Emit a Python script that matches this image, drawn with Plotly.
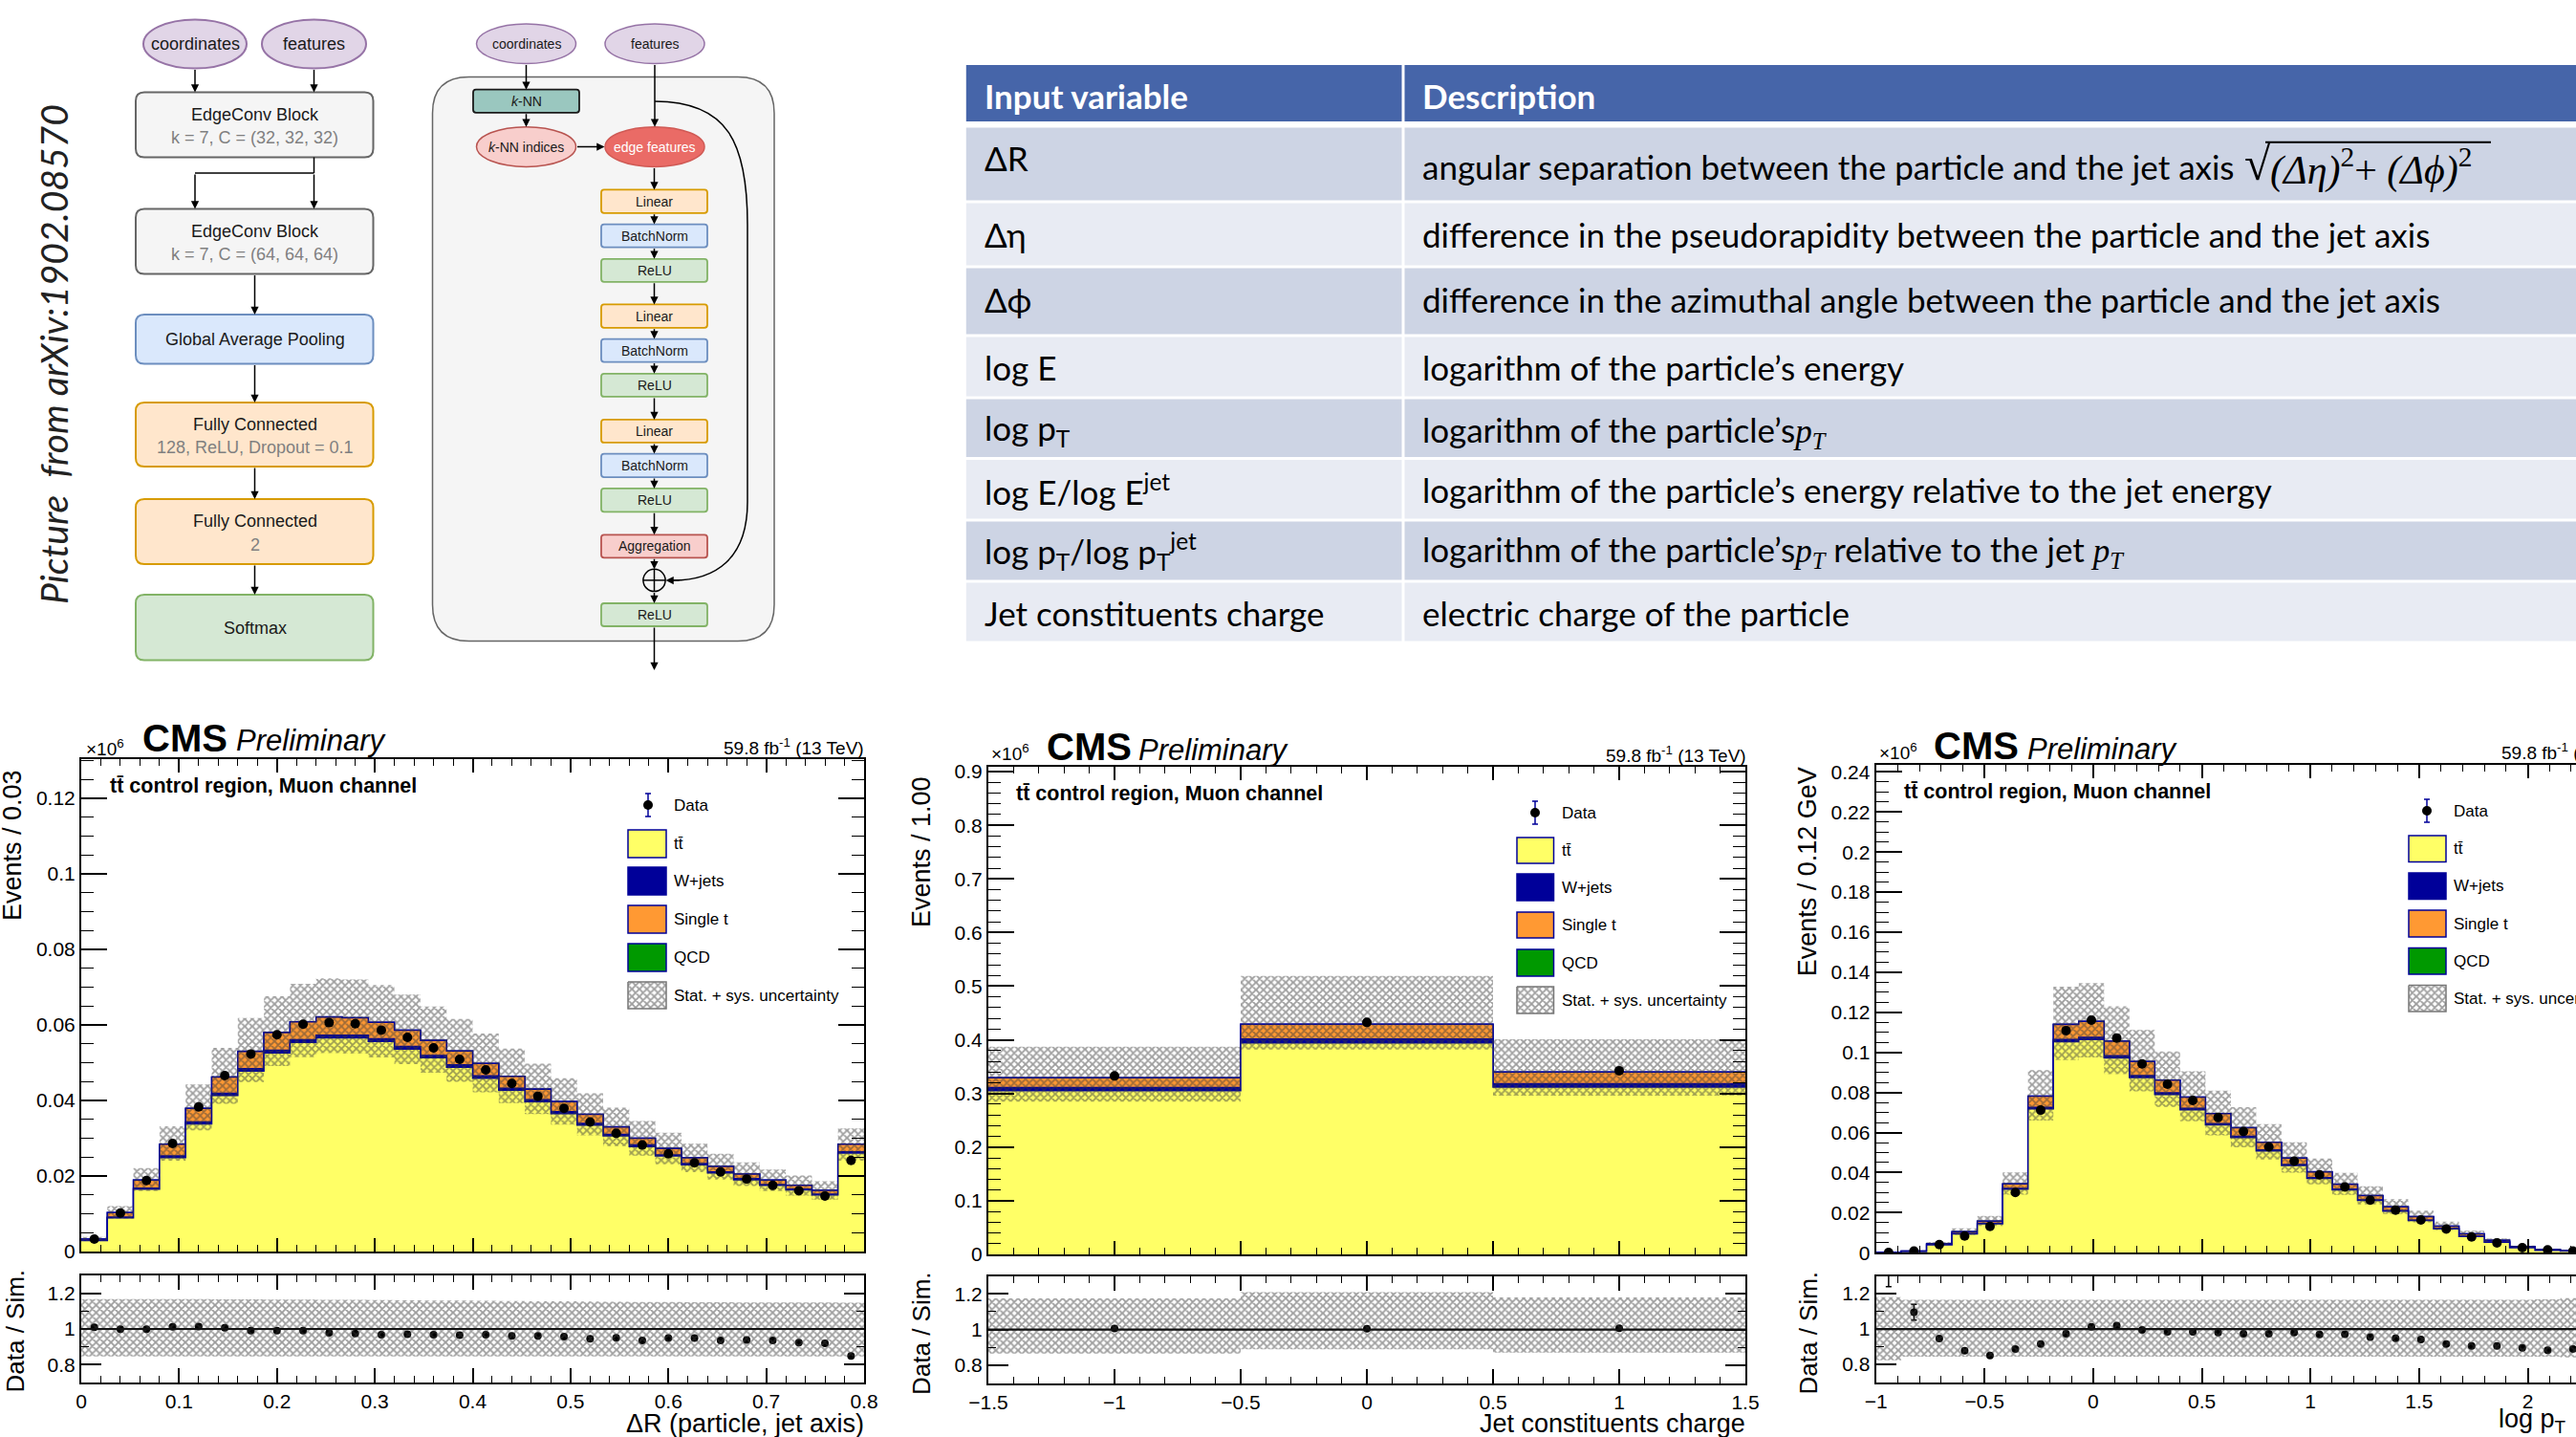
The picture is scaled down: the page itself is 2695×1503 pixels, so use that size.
import numpy as np
import plotly.graph_objects as go

W, H = 2695, 1503
RF = "Liberation Sans"   # ROOT / Helvetica-like
TF = "Lato"              # slide table font
MF = "Liberation Serif"  # math
DF = "Liberation Sans"   # diagram

NAVY = "#000099"
YEL = "#ffff66"
ORG = "#ff9933"
GRN = "#009900"
HATCH = "#3c3c3c"

# ====================== DATA ======================
# --- Delta R (particle, jet axis): 30 bins, 0 .. 0.8 ---
dr_range = [0.0, 0.8]
dr_nbins = 30
dr_tt = [0.0029, 0.0089, 0.0165, 0.0249, 0.0338, 0.0413, 0.0478, 0.0526, 0.0554, 0.0566,
         0.0566, 0.0556, 0.0536, 0.0513, 0.0488, 0.0459, 0.0427, 0.0397, 0.0365, 0.0335,
         0.0306, 0.0278, 0.0253, 0.0230, 0.0208, 0.0190, 0.0175, 0.0163, 0.0150, 0.0261]
dr_wjets = [0.0001, 0.0002, 0.0003, 0.0004, 0.0005, 0.0006, 0.0006, 0.0007, 0.0007, 0.0007,
            0.0007, 0.0007, 0.0007, 0.0006, 0.0006, 0.0006, 0.0005, 0.0005, 0.0005, 0.0004,
            0.0004, 0.0004, 0.0003, 0.0003, 0.0003, 0.0003, 0.0002, 0.0002, 0.0002, 0.0003]
dr_singlet = [0.0003, 0.0012, 0.0021, 0.0031, 0.0036, 0.0043, 0.0046, 0.0047, 0.0047, 0.0048,
              0.0046, 0.0044, 0.0043, 0.0040, 0.0037, 0.0033, 0.0032, 0.0028, 0.0027, 0.0024,
              0.0020, 0.0018, 0.0017, 0.0015, 0.0014, 0.0012, 0.0012, 0.0010, 0.0010, 0.0020]
dr_qcd = [0.00002, 0.00002, 0.00002, 0.00002, 0.00002, 0.00002, 0.00002, 0.00002, 0.00002, 0.00002,
          0.00002, 0.00002, 0.00002, 0.00002, 0.00002, 0.00002, 0.00002, 0.00002, 0.00002, 0.00002,
          0.00002, 0.00002, 0.00002, 0.00002, 0.00002, 0.00002, 0.00002, 0.00002, 0.00002, 0.00002]
dr_data = [0.0033, 0.0102, 0.0188, 0.0286, 0.0383, 0.0466, 0.0523, 0.0574, 0.0602, 0.0606,
           0.0603, 0.0586, 0.0567, 0.0539, 0.0509, 0.0481, 0.0445, 0.0411, 0.0379, 0.0343,
           0.0313, 0.0282, 0.0259, 0.0235, 0.0211, 0.0192, 0.0175, 0.0161, 0.0147, 0.0241]
dr_ratio = [1.009, 0.998, 0.998, 1.012, 1.014, 1.007, 0.991, 0.991, 0.991, 0.979,
            0.975, 0.968, 0.970, 0.968, 0.965, 0.968, 0.961, 0.961, 0.957, 0.945,
            0.950, 0.936, 0.949, 0.949, 0.936, 0.938, 0.936, 0.924, 0.920, 0.849]
dr_unc_up = [0.168, 0.168, 0.168, 0.167, 0.167, 0.166, 0.166, 0.165, 0.165, 0.164,
             0.163, 0.162, 0.161, 0.160, 0.159, 0.158, 0.157, 0.156, 0.155, 0.154,
             0.153, 0.152, 0.151, 0.150, 0.150, 0.149, 0.149, 0.148, 0.148, 0.147]
dr_unc_dn = [0.154, 0.154, 0.154, 0.154, 0.154, 0.154, 0.154, 0.154, 0.154, 0.154,
             0.154, 0.154, 0.154, 0.154, 0.154, 0.154, 0.154, 0.154, 0.154, 0.154,
             0.154, 0.154, 0.154, 0.154, 0.154, 0.154, 0.154, 0.154, 0.154, 0.154]

# --- Jet constituents charge: 3 bins, -1.5 .. 1.5 ---
ch_range = [-1.5, 1.5]
ch_nbins = 3
ch_tt = [0.3051, 0.3944, 0.3121]
ch_wjets = [0.0060, 0.0070, 0.0060]
ch_singlet = [0.0182, 0.0277, 0.0218]
ch_qcd = [0.0001, 0.0001, 0.0001]
ch_data = [0.3327, 0.4325, 0.3424]
ch_ratio = [1.006, 1.004, 1.007]
ch_unc_up = [0.175, 0.210, 0.180]
ch_unc_dn = [0.135, 0.110, 0.130]

# --- log pT: 30 bins, -1 .. 2.5 ---
lp_range = [-1.0, 2.5]
lp_nbins = 30
lp_tt = [0.0001, 0.0006, 0.0040, 0.0094, 0.0145, 0.0317, 0.0718, 0.1053, 0.1064, 0.0973,
         0.0875, 0.0790, 0.0714, 0.0639, 0.0575, 0.0508, 0.0436, 0.0371, 0.0314, 0.0261,
         0.0208, 0.0161, 0.0119, 0.0081, 0.0053, 0.0025, 0.0012, 0.0008, 0.0004, 0.0003]
lp_wjets = [0.0000, 0.0001, 0.0001, 0.0002, 0.0002, 0.0004, 0.0008, 0.0011, 0.0011, 0.0010,
            0.0009, 0.0008, 0.0007, 0.0006, 0.0006, 0.0005, 0.0004, 0.0004, 0.0003, 0.0003,
            0.0002, 0.0002, 0.0001, 0.0001, 0.0001, 0.0000, 0.0000, 0.0000, 0.0000, 0.0000]
lp_singlet = [0.0000, 0.0001, 0.0005, 0.0009, 0.0011, 0.0023, 0.0056, 0.0076, 0.0080, 0.0073,
              0.0070, 0.0064, 0.0056, 0.0049, 0.0043, 0.0038, 0.0033, 0.0029, 0.0025, 0.0021,
              0.0019, 0.0017, 0.0013, 0.0012, 0.0008, 0.0006, 0.0005, 0.0003, 0.0002, 0.0001]
lp_qcd = [0.00001, 0.00001, 0.00001, 0.00001, 0.00001, 0.00001, 0.00001, 0.00001, 0.00001, 0.00001,
          0.00001, 0.00001, 0.00001, 0.00001, 0.00001, 0.00001, 0.00001, 0.00001, 0.00001, 0.00001,
          0.00001, 0.00001, 0.00001, 0.00001, 0.00001, 0.00001, 0.00001, 0.00001, 0.00001, 0.00001]
lp_data = [0.0001, 0.0008, 0.0041, 0.0084, 0.0132, 0.0301, 0.0712, 0.1109, 0.1161, 0.1072,
           0.0943, 0.0841, 0.0760, 0.0675, 0.0605, 0.0529, 0.0457, 0.0389, 0.0328, 0.0263,
           0.0213, 0.0164, 0.0118, 0.0079, 0.0049, 0.0025, 0.0014, 0.0008, 0.0005, 0.0003]
lp_ratio = [1.450, 1.095, 0.946, 0.878, 0.851, 0.887, 0.916, 0.973, 1.013, 1.020,
            0.995, 0.984, 0.984, 0.980, 0.973, 0.973, 0.980, 0.970, 0.971, 0.955,
            0.948, 0.941, 0.916, 0.905, 0.905, 0.894, 0.880, 0.887, 0.890, 0.880]
lp_ratio_err = [0.210, 0.045, 0.010, 0.006, 0.005, 0.003, 0.002, 0.002, 0.002, 0.002,
                0.002, 0.002, 0.002, 0.002, 0.002, 0.002, 0.002, 0.002, 0.003, 0.003,
                0.003, 0.004, 0.004, 0.005, 0.006, 0.008, 0.010, 0.012, 0.015, 0.020]
lp_unc_up = [0.180, 0.165, 0.165, 0.165, 0.165, 0.165, 0.165, 0.165, 0.165, 0.165,
             0.165, 0.165, 0.165, 0.165, 0.165, 0.165, 0.165, 0.165, 0.165, 0.165,
             0.165, 0.165, 0.165, 0.165, 0.165, 0.165, 0.168, 0.175, 0.180, 0.180]
lp_unc_dn = [0.176, 0.156, 0.156, 0.156, 0.156, 0.156, 0.156, 0.156, 0.156, 0.156,
             0.156, 0.156, 0.156, 0.156, 0.156, 0.156, 0.156, 0.156, 0.156, 0.156,
             0.156, 0.156, 0.156, 0.156, 0.156, 0.156, 0.156, 0.160, 0.165, 0.170]

legend_labels = ["tt\u0304", "W+jets", "Single t", "QCD", "Stat. + sys. uncertainty"]
legend_colors = [YEL, NAVY, ORG, GRN, None]

# --- table ---
tab_header = ["Input variable", "Description"]
tab_vars = ["\u0394R", "\u0394\u03b7", "\u0394\u03d5", "log E", "log p<sub>T</sub>",
            "log E/log E<sup>jet</sup>", "log p<sub>T</sub>/log p<sub>T</sub><sup>jet</sup>",
            "Jet constituents charge"]
PT = "<span style=\"font-family:'Liberation Serif'\"><i>p</i><sub><i>T</i></sub></span>"
tab_desc = ["angular separation between the particle and the jet axis",
            "difference in the pseudorapidity between the particle and the jet axis",
            "difference in the azimuthal angle between the particle and the jet axis",
            "logarithm of the particle\u2019s energy",
            "logarithm of the particle\u2019s" + PT,
            "logarithm of the particle\u2019s energy relative to the jet energy",
            "logarithm of the particle\u2019s" + PT + " relative to the jet " + PT,
            "electric charge of the particle"]

# ====================== FIGURE ======================
fig = go.Figure()
annotations = []
shapes = []


def T(x, y, text, size, color="black", family=RF, xanchor="left", yanchor="middle", angle=0):
    annotations.append(dict(x=x, y=y, xref="x7", yref="y7", text=text, showarrow=False,
                            xanchor=xanchor, yanchor=yanchor, textangle=angle,
                            font=dict(family=family, size=size, color=color)))


def A(x0, y0, x1, y1, width=1.5):
    annotations.append(dict(x=x1, y=y1, xref="x7", yref="y7", ax=x0 - x1, ay=y0 - y1,
                            axref="pixel", ayref="pixel", showarrow=True, arrowhead=2,
                            arrowsize=1.1, arrowwidth=width, arrowcolor="black", text="",
                            standoff=0))


def L(x0, y0, x1, y1, color="black", width=1.5, layer="below"):
    shapes.append(dict(type="line", xref="x7", yref="y7", x0=x0, y0=y0, x1=x1, y1=y1,
                       line=dict(color=color, width=width), layer=layer))


def RR(x0, y0, x1, y1, r, fill, line, lw=2.0, layer="below"):
    p = (f"M{x0+r},{y0} L{x1-r},{y0} Q{x1},{y0} {x1},{y0+r} L{x1},{y1-r} Q{x1},{y1} {x1-r},{y1} "
         f"L{x0+r},{y1} Q{x0},{y1} {x0},{y1-r} L{x0},{y0+r} Q{x0},{y0} {x0+r},{y0} Z")
    shapes.append(dict(type="path", path=p, xref="x7", yref="y7", fillcolor=fill,
                       line=dict(color=line, width=lw), layer=layer))


def EL(x0, y0, x1, y1, fill, line, lw=2.0):
    shapes.append(dict(type="circle", xref="x7", yref="y7", x0=x0, y0=y0, x1=x1, y1=y1,
                       fillcolor=fill, line=dict(color=line, width=lw), layer="below"))


def REC(x0, y0, x1, y1, fill, line=None, lw=0, layer="below"):
    shapes.append(dict(type="rect", xref="x7", yref="y7", x0=x0, y0=y0, x1=x1, y1=y1,
                       fillcolor=fill, line=dict(color=line or fill, width=lw), layer=layer))


def pattern():
    return dict(shape="x", fgcolor=HATCH, bgcolor="rgba(0,0,0,0)", size=5.5, solidity=0.55)


def steps(edges, vals):
    return list(edges), list(vals) + [vals[-1]]


def hatch_band(edges, lo, hi, xa, ya):
    xs, yl = steps(edges, lo)
    _, yh = steps(edges, hi)
    fig.add_trace(go.Scatter(x=xs, y=yl, xaxis=xa, yaxis=ya, mode="lines",
                             line=dict(shape="hv", width=0, color="rgba(0,0,0,0)"),
                             hoverinfo="skip", showlegend=False))
    fig.add_trace(go.Scatter(x=xs, y=yh, xaxis=xa, yaxis=ya, mode="lines",
                             line=dict(shape="hv", width=0, color="rgba(0,0,0,0)"),
                             fill="tonexty", fillcolor="rgba(0,0,0,0)", fillpattern=pattern(),
                             hoverinfo="skip", showlegend=False))


def build_panel(ids, rng, nb, tt, wj, st, qcd, data, ratio, up, dn, rerr=None):
    mx, my, rx, ry = ids
    edges = np.linspace(rng[0], rng[1], nb + 1)
    cen = 0.5 * (edges[:-1] + edges[1:])
    tt, wj, st, qcd = (np.asarray(a, float) for a in (tt, wj, st, qcd))
    c1 = tt
    c2 = c1 + wj
    c3 = c2 + st
    c4 = c3 + qcd
    for lvl, col in ((c4, GRN), (c3, ORG), (c2, NAVY), (c1, YEL)):
        xs, ys = steps(edges, lvl)
        fig.add_trace(go.Scatter(x=xs, y=ys, xaxis=mx, yaxis=my, mode="lines",
                                 line=dict(shape="hv", color=NAVY, width=1.5),
                                 fill="tozeroy", fillcolor=col, hoverinfo="skip", showlegend=False))
    up = np.asarray(up, float)
    dn = np.asarray(dn, float)
    hatch_band(edges, c4 * (1 - dn), c4 * (1 + up), mx, my)
    fig.add_trace(go.Scatter(x=cen, y=data, xaxis=mx, yaxis=my, mode="markers",
                             marker=dict(color="black", size=10), hoverinfo="skip", showlegend=False))
    err = None
    if rerr is not None:
        err = dict(type="data", array=rerr, color="black", thickness=1.5, width=3)
    fig.add_trace(go.Scatter(x=cen, y=ratio, xaxis=rx, yaxis=ry, mode="markers",
                             marker=dict(color="black", size=8), error_y=err,
                             hoverinfo="skip", showlegend=False))
    hatch_band(edges, 1 - dn, 1 + up, rx, ry)
    xr = ("x" if rx == "x" else rx) + " domain"
    shapes.append(dict(type="line", xref=xr, yref=ry, x0=0, x1=1, y0=1, y1=1,
                       line=dict(color="#111111", width=2.2), layer="above"))


build_panel(("x", "y", "x2", "y2"), dr_range, dr_nbins, dr_tt, dr_wjets, dr_singlet, dr_qcd,
            dr_data, dr_ratio, dr_unc_up, dr_unc_dn)
build_panel(("x3", "y3", "x4", "y4"), ch_range, ch_nbins, ch_tt, ch_wjets, ch_singlet, ch_qcd,
            ch_data, ch_ratio, ch_unc_up, ch_unc_dn)
build_panel(("x5", "y5", "x6", "y6"), lp_range, lp_nbins, lp_tt, lp_wjets, lp_singlet, lp_qcd,
            lp_data, lp_ratio, lp_unc_up, lp_unc_dn, lp_ratio_err)


# ---------------- axes ----------------
def axis(domain, anchor, rng, dtick, mdtick, tl, mtl, labels, tick0=0.0, mirror="ticks"):
    return dict(domain=domain, anchor=anchor, range=rng, dtick=dtick, tick0=tick0,
                ticks="inside", ticklen=tl, tickwidth=1.5, tickcolor="black",
                minor=dict(ticks="inside", dtick=mdtick, ticklen=mtl, tickwidth=1.2,
                           tickcolor="black", showgrid=False),
                showline=True, linecolor="black", linewidth=2, mirror=mirror,
                showgrid=False, zeroline=False, showticklabels=labels, automargin=False,
                tickfont=dict(family=RF, size=21, color="black"), fixedrange=True)


def xd(a, b):
    return [a / W, min(b / W, 1.0)]


def yd(top, bot):
    return [1 - bot / H, 1 - top / H]


lp_xmax = lp_range[0] + (W - 1962.6) / 227.3
layout_axes = dict(
    xaxis=axis(xd(85, 904), "y", dr_range, 0.1, 0.02, 14, 7, False),
    yaxis=axis(yd(793.5, 1309), "x", [0, 0.1305], 0.02, 0.005, 27, 13, True),
    xaxis2=axis(xd(85, 904), "y2", dr_range, 0.1, 0.02, 15, 7, True),
    yaxis2=axis(yd(1334, 1446), "x2", [0.7, 1.3], 0.2, 0.1, 21, 8, True, tick0=0.8),
    xaxis3=axis(xd(1034, 1826), "y3", ch_range, 0.5, 0.1, 14, 7, False),
    yaxis3=axis(yd(802, 1312), "x3", [0, 0.909], 0.1, 0.02, 27, 13, True),
    xaxis4=axis(xd(1034, 1826), "y4", ch_range, 0.5, 0.1, 15, 7, True),
    yaxis4=axis(yd(1334.6, 1446.6), "x4", [0.7, 1.3], 0.2, 0.1, 21, 8, True, tick0=0.8),
    xaxis5=axis(xd(1962.6, W), "y5", [lp_range[0], lp_xmax], 0.5, 0.1, 14, 7, False),
    yaxis5=axis(yd(800, 1310.3), "x5", [0, 0.2435], 0.02, 0.005, 27, 13, True, mirror=False),
    xaxis6=axis(xd(1962.6, W), "y6", [lp_range[0], lp_xmax], 0.5, 0.1, 15, 7, True),
    yaxis6=axis(yd(1334.6, 1445.6), "x6", [0.7, 1.3], 0.2, 0.1, 21, 8, True, tick0=0.8, mirror=False),
    xaxis7=dict(domain=[0, 1], range=[0, W], visible=False, anchor="y7", fixedrange=True,
                automargin=False, showgrid=False, zeroline=False),
    yaxis7=dict(domain=[0, 1], range=[H, 0], visible=False, anchor="x7", fixedrange=True,
                automargin=False, showgrid=False, zeroline=False),
)


# ---------------- ROOT texts + legends ----------------
def legend(mk_x, mk_y, txt_x, bx0, bx1, rows, err=12):
    fig.add_trace(go.Scatter(x=[mk_x], y=[mk_y], xaxis="x7", yaxis="y7", mode="markers",
                             marker=dict(color="black", size=10),
                             error_y=dict(type="constant", value=err, color=NAVY, thickness=1.5, width=3),
                             hoverinfo="skip", showlegend=False))
    T(txt_x, mk_y, "Data", 17)
    for (y0, y1), lab, col in zip(rows, legend_labels, legend_colors):
        if col:
            REC(bx0, y0, bx1, y1, col, NAVY, 1.5, layer="above")
        else:
            fig.add_trace(go.Scatter(x=[bx0, bx1, bx1, bx0, bx0], y=[y0, y0, y1, y1, y0],
                                     xaxis="x7", yaxis="y7", mode="lines",
                                     line=dict(color="#777777", width=1.5), fill="toself",
                                     fillcolor="rgba(0,0,0,0)", fillpattern=pattern(),
                                     hoverinfo="skip", showlegend=False))
        T(txt_x, (y0 + y1) / 2, lab, 17)


LUMI = "59.8 fb<sup>-1</sup> (13 TeV)"
REGION = "<b>tt\u0304 control region, Muon channel</b>"

# panel 1
T(88, 782, "\u00d710<sup>6</sup>", 19)
T(147, 771.5, "<b>CMS</b>", 40)
T(245, 774, "<i>Preliminary</i>", 31)
T(906, 781, LUMI, 19, xanchor="right")
T(113, 822, REGION, 21.5)
T(13, 803, "Events / 0.03", 27, xanchor="center", yanchor="top", angle=-90)
T(15, 1326, "Data / Sim.", 26, xanchor="center", yanchor="top", angle=-90)
T(906, 1489, "\u0394R (particle, jet axis)", 27, xanchor="right")
legend(678, 842, 703, 657, 697, [(868, 897), (907, 936), (947, 976), (987, 1016), (1027, 1055)])

# panel 2
T(1035, 787, "\u00d710<sup>6</sup>", 19)
T(1093, 781, "<b>CMS</b>", 40)
T(1189, 784, "<i>Preliminary</i>", 31)
T(1829, 789, LUMI, 19, xanchor="right")
T(1061, 830, REGION, 21.5)
T(963.5, 810.6, "Events / 1.00", 27, xanchor="center", yanchor="top", angle=-90)
T(963.5, 1328, "Data / Sim.", 26, xanchor="center", yanchor="top", angle=-90)
T(1828, 1489, "Jet constituents charge", 27, xanchor="right")
legend(1606, 850, 1632, 1587, 1625.5, [(876, 903), (914, 942), (954, 981), (993, 1021), (1032, 1060)])

# panel 3
T(1964, 786, "\u00d710<sup>6</sup>", 19)
T(2021, 780, "<b>CMS</b>", 40)
T(2119, 783, "<i>Preliminary</i>", 31)
T(2615, 786, LUMI, 19)
T(1990, 828, REGION, 21.5)
T(1891, 800.8, "Events / 0.12 GeV", 27, xanchor="center", yanchor="top", angle=-90)
T(1891, 1328, "Data / Sim.", 26, xanchor="center", yanchor="top", angle=-90)
T(2612, 1486, "log p<sub>T</sub>", 27)
legend(2539, 848, 2565, 2520, 2559, [(874, 901.5), (913, 940.5), (952, 980), (991.6, 1019), (1030.5, 1058)])

# ---------------- network diagram ----------------
TXT = "#1a1a1a"
SUB = "#808080"
PURF, PURL = "#e1d5e7", "#9673a6"
GRYF, GRYL = "#f5f5f5", "#666666"
BLUF, BLUL = "#dae8fc", "#6c8ebf"
ORGF, ORGL = "#ffe6cc", "#d79b00"
GRNF, GRNL = "#d5e8d4", "#82b366"
REDF, REDL = "#f8cecc", "#b85450"

T(56, 371, "<i>Picture\u00a0 from arXiv:1902.08570</i>", 39, color="#222222", family=TF,
  xanchor="center", yanchor="middle", angle=-90)

# left column
EL(150, 20.5, 258, 71.5, PURF, PURL)
EL(274, 20.5, 383, 71.5, PURF, PURL)
T(204, 46, "coordinates", 18, TXT, DF, "center")
T(328.5, 46, "features", 18, TXT, DF, "center")
A(204, 71.5, 204, 96.5)
A(328.5, 71.5, 328.5, 96.5)
RR(142, 96.5, 390.5, 164.5, 9, GRYF, GRYL)
T(266.5, 120, "EdgeConv Block", 18, TXT, DF, "center")
T(266.5, 144, "k = 7, C = (32, 32, 32)", 18, SUB, DF, "center")
L(328.5, 164.5, 328.5, 181)
L(204, 181, 328.5, 181)
A(204, 181, 204, 218.5)
A(328.5, 181, 328.5, 218.5)
RR(142, 218.5, 390.5, 286.5, 9, GRYF, GRYL)
T(266.5, 242, "EdgeConv Block", 18, TXT, DF, "center")
T(266.5, 266, "k = 7, C = (64, 64, 64)", 18, SUB, DF, "center")
A(266.5, 286.5, 266.5, 329)
RR(142, 329, 390.5, 380.5, 9, BLUF, BLUL)
T(266.5, 355, "Global Average Pooling", 18, TXT, DF, "center")
A(266.5, 380.5, 266.5, 421)
RR(142, 421, 390.5, 488, 9, ORGF, ORGL)
T(266.5, 444, "Fully Connected", 18, TXT, DF, "center")
T(266.5, 467.5, "128, ReLU, Dropout = 0.1", 18, SUB, DF, "center")
A(266.5, 488, 266.5, 522)
RR(142, 522, 390.5, 590, 9, ORGF, ORGL)
T(266.5, 545, "Fully Connected", 18, TXT, DF, "center")
T(266.5, 569.5, "2", 18, SUB, DF, "center")
A(266.5, 590, 266.5, 622)
RR(142, 622, 390.5, 690.5, 9, GRNF, GRNL)
T(266.5, 656.5, "Softmax", 18, TXT, DF, "center")

# right panel (EdgeConv block)
RR(452.5, 80.5, 810, 670.5, 38, GRYF, GRYL, 1.5)
EL(498.5, 25, 602.5, 66.5, PURF, PURL, 1.5)
EL(633, 25, 737, 66.5, PURF, PURL, 1.5)
T(550.5, 45.7, "coordinates", 14, TXT, DF, "center")
T(685, 45.7, "features", 14, TXT, DF, "center")
A(550.5, 66.5, 550.5, 93.7)
RR(495, 93.7, 606, 117.8, 3, "#9ac7bf", "#1a1a1a", 1.8)
T(550.5, 105.7, "<i>k</i>-NN", 14, TXT, DF, "center")
A(550.5, 117.8, 550.5, 132.7)
EL(498.5, 132.7, 602.5, 174.4, REDF, REDL, 1.5)
T(550.5, 153.5, "<i>k</i>-NN indices", 14, TXT, DF, "center")
A(602.5, 153.5, 632.5, 153.5)
A(685, 66.5, 685, 132.7)
EL(633, 132.7, 737, 174.4, "#ea6b66", "#d05a55", 1.5)
T(685, 153.5, "edge features", 14, "white", DF, "center")
# skip connection
shapes.append(dict(type="path", xref="x7", yref="y7", layer="below",
                   path="M685,106 C762,106 782,150 782,235 L782,525 C782,585 748,607 704,607",
                   line=dict(color="black", width=1.5)))
A(712, 607, 696.5, 607)
chain = [("Linear", 198.4, 222.8, ORGF, ORGL), ("BatchNorm", 234.6, 258.6, BLUF, BLUL),
         ("ReLU", 270.8, 294.8, GRNF, GRNL), ("Linear", 318.4, 342.8, ORGF, ORGL),
         ("BatchNorm", 354.6, 378.6, BLUF, BLUL), ("ReLU", 390.8, 414.9, GRNF, GRNL),
         ("Linear", 438.9, 462.9, ORGF, ORGL), ("BatchNorm", 474.6, 499.1, BLUF, BLUL),
         ("ReLU", 510.9, 535.3, GRNF, GRNL), ("Aggregation", 559.3, 583.3, REDF, REDL)]
prev = 174.4
for name, y0, y1, f, l in chain:
    A(684.5, prev, 684.5, y0)
    RR(629, y0, 740, y1, 3, f, l, 1.8)
    T(684.5, (y0 + y1) / 2, name, 14, TXT, DF, "center")
    prev = y1
A(684.5, prev, 684.5, 595.3)
shapes.append(dict(type="circle", xref="x7", yref="y7", x0=672.9, x1=696.1, y0=595.3, y1=618.5,
                   line=dict(color="black", width=1.5), fillcolor="rgba(0,0,0,0)", layer="below"))
L(672.9, 606.9, 696.1, 606.9)
L(684.5, 595.3, 684.5, 618.5)
A(684.5, 618.5, 684.5, 631)
RR(629, 631, 740, 655, 3, GRNF, GRNL, 1.8)
T(684.5, 643, "ReLU", 14, TXT, DF, "center")
A(684.5, 655, 684.5, 701)

# ---------------- table ----------------
DARK, LIGHT, HEAD = "#cdd4e4", "#e8ebf3", "#4665a9"
rows_y = [(68, 127), (133.5, 209.5), (212.5, 277.5), (280.5, 349.5), (352.5, 414.5),
          (417.5, 478), (481, 542.5), (545.5, 606.5), (609.5, 670.5)]
row_fill = [HEAD, DARK, LIGHT, DARK, LIGHT, DARK, LIGHT, DARK, LIGHT]
for (y0, y1), f in zip(rows_y, row_fill):
    REC(1010.8, y0, 1466.5, y1, f)
    REC(1469.5, y0, W + 10, y1, f)
FS = 35
T(1028, 99.7, "<b>" + tab_header[0] + "</b>", FS, "white", TF)
T(1486, 99.7, "<b>" + tab_header[1] + "</b>", FS, "white", TF)
var_y = [165, 244.5, 313, 383.5, 449, 511.5, 576.5, 641]
desc_y = [173.5, 244.5, 313, 383.5, 451, 511.5, 576.5, 641]
for v, d, vy, dy in zip(tab_vars, tab_desc, var_y, desc_y):
    T(1028, vy, v, FS, "black", TF)
    T(1486, dy, d, FS, "black", TF)
# sqrt formula of row 1
T(2346, 171, "\u221a", 50, "black", MF)
L(2370, 148.7, 2606, 148.7, "black", 2)
T(2373, 175, "<i>(\u0394\u03b7)</i><sup>2</sup>+ <i>(\u0394\u03d5)</i><sup>2</sup>", 42, "black", MF)

fig.update_layout(
    width=W, height=H, margin=dict(l=0, r=0, t=0, b=0, pad=0),
    paper_bgcolor="white", plot_bgcolor="rgba(0,0,0,0)", showlegend=False,
    annotations=annotations, shapes=shapes, **layout_axes)

fig.write_html("out.html", config={"displayModeBar": False},
               post_script="document.body.style.margin='0px';"
                           "document.body.style.overflow='hidden';"
                           "document.documentElement.style.overflow='hidden';")
